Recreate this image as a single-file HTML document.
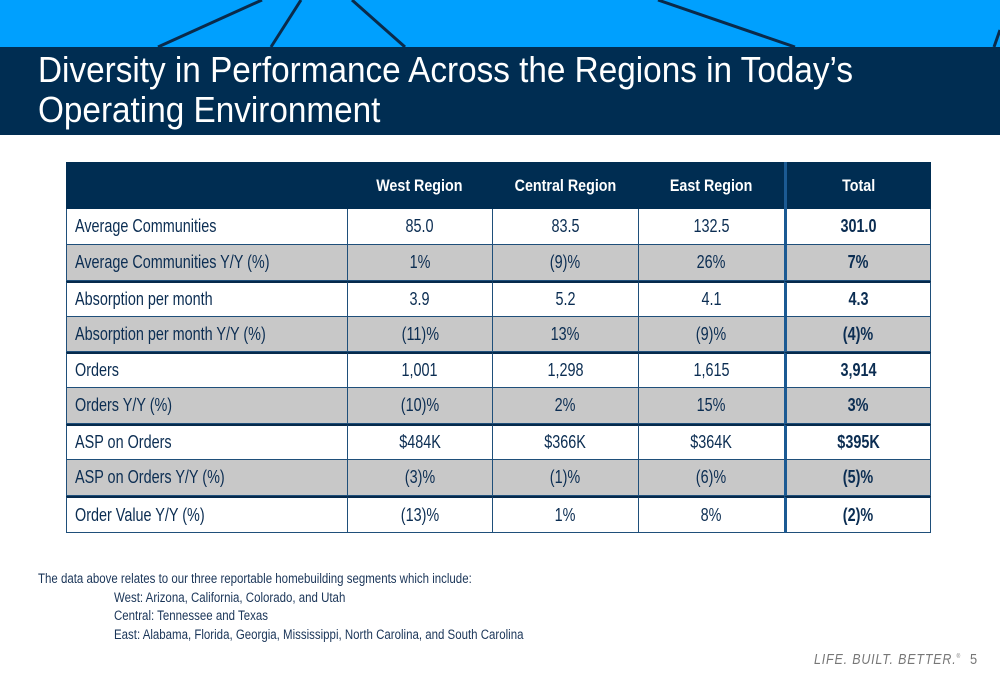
<!DOCTYPE html>
<html><head><style>
body{margin:0;width:1000px;height:685px;background:#fff;position:relative;overflow:hidden;font-family:"Liberation Sans",sans-serif;}
.banner{position:absolute;left:0;top:0;width:1000px;height:47px;background:#00a0fe;}
.title{position:absolute;left:0;top:47px;width:1000px;height:88px;background:#002d52;color:#fff;}
.title div{position:absolute;left:38px;font-size:36px;white-space:nowrap;transform:scaleX(0.925);transform-origin:left;}
.cell{position:absolute;box-sizing:border-box;display:flex;align-items:center;justify-content:center;font-size:18px;color:#0b2d52;white-space:nowrap;}
.cell span{display:inline-block;transform:scaleX(0.8);}
.lbl{justify-content:flex-start;padding-left:8px;}
.lbl span{transform-origin:left;}
.note{position:absolute;font-size:13.5px;color:#1a3558;white-space:nowrap;transform:scaleX(0.85);transform-origin:left;}
</style></head><body>
<div class="banner"></div>
<svg style="position:absolute;left:0;top:0" width="1000" height="48">
<g stroke="#0a2a4a" stroke-width="3">
<line x1="158" y1="47" x2="262" y2="0"/><line x1="271" y1="47" x2="301" y2="0"/>
<line x1="405" y1="47" x2="352" y2="0"/><line x1="795" y1="47" x2="658" y2="0"/>
<line x1="994" y1="47" x2="1000" y2="30"/></g></svg>
<div class="title"><div style="top:2px">Diversity in Performance Across the Regions in Today’s</div><div style="top:42px">Operating Environment</div></div>
<div id="t"></div>
<div class="note" style="left:38px;top:571px">The data above relates to our three reportable homebuilding segments which include:</div>
<div class="note" style="left:114px;top:590px">West: Arizona, California, Colorado, and Utah</div>
<div class="note" style="left:114px;top:608px">Central: Tennessee and Texas</div>
<div class="note" style="left:114px;top:627px">East: Alabama, Florida, Georgia, Mississippi, North Carolina, and South Carolina</div>
<div class="note" style="left:814px;top:651px;font-size:15px;font-style:italic;color:#777;letter-spacing:1px;transform:scaleX(0.83)">LIFE. BUILT. BETTER.<sup style="font-size:6px">®</sup></div>
<div class="note" style="left:970px;top:651px;font-size:15px;color:#777">5</div>
<script>
var cols=[66,347,492,638,784,931];
var ys=[162,209,245,281,317,352,388,424,460,496,533];
var data=[["","West Region","Central Region","East Region","Total"],
["Average Communities","85.0","83.5","132.5","301.0"],
["Average Communities Y/Y (%)","1%","(9)%","26%","7%"],
["Absorption per month","3.9","5.2","4.1","4.3"],
["Absorption per month Y/Y (%)","(11)%","13%","(9)%","(4)%"],
["Orders","1,001","1,298","1,615","3,914"],
["Orders Y/Y (%)","(10)%","2%","15%","3%"],
["ASP on Orders","$484K","$366K","$364K","$395K"],
["ASP on Orders Y/Y (%)","(3)%","(1)%","(6)%","(5)%"],
["Order Value Y/Y (%)","(13)%","1%","8%","(2)%"]];
var h="";
for(var r=0;r<10;r++){for(var c=0;c<5;c++){
var x=cols[c],w=cols[c+1]-x,y=ys[r],hh=ys[r+1]-y;
var bg=r==0?"#002d52":(r%2==0?"#c8c8c8":"#fff");
var st="left:"+x+"px;top:"+y+"px;width:"+w+"px;height:"+hh+"px;background:"+bg+";";
if(r>0){st+="border-left:1px solid #1f4f7a;border-bottom:1px solid #1f4f7a;";
if(c==4)st+="border-right:1px solid #1f4f7a;";
if(r%2==1&&r>1)st+="border-top:2px solid #062a4c;";}
if(c==4)st+="border-left:3px solid #1b5a93;";
if(r==0)st+="color:#fff;font-weight:bold;font-size:17px;";
if(c==4&&r>0)st+="font-weight:bold;";
var sp=r==0?' style="transform:scaleX(0.84)"':'';
h+='<div class="cell'+(c==0?' lbl':'')+'" style="'+st+'"><span'+sp+'>'+data[r][c]+'</span></div>';}}
document.getElementById("t").innerHTML=h;
</script>
</body></html>
